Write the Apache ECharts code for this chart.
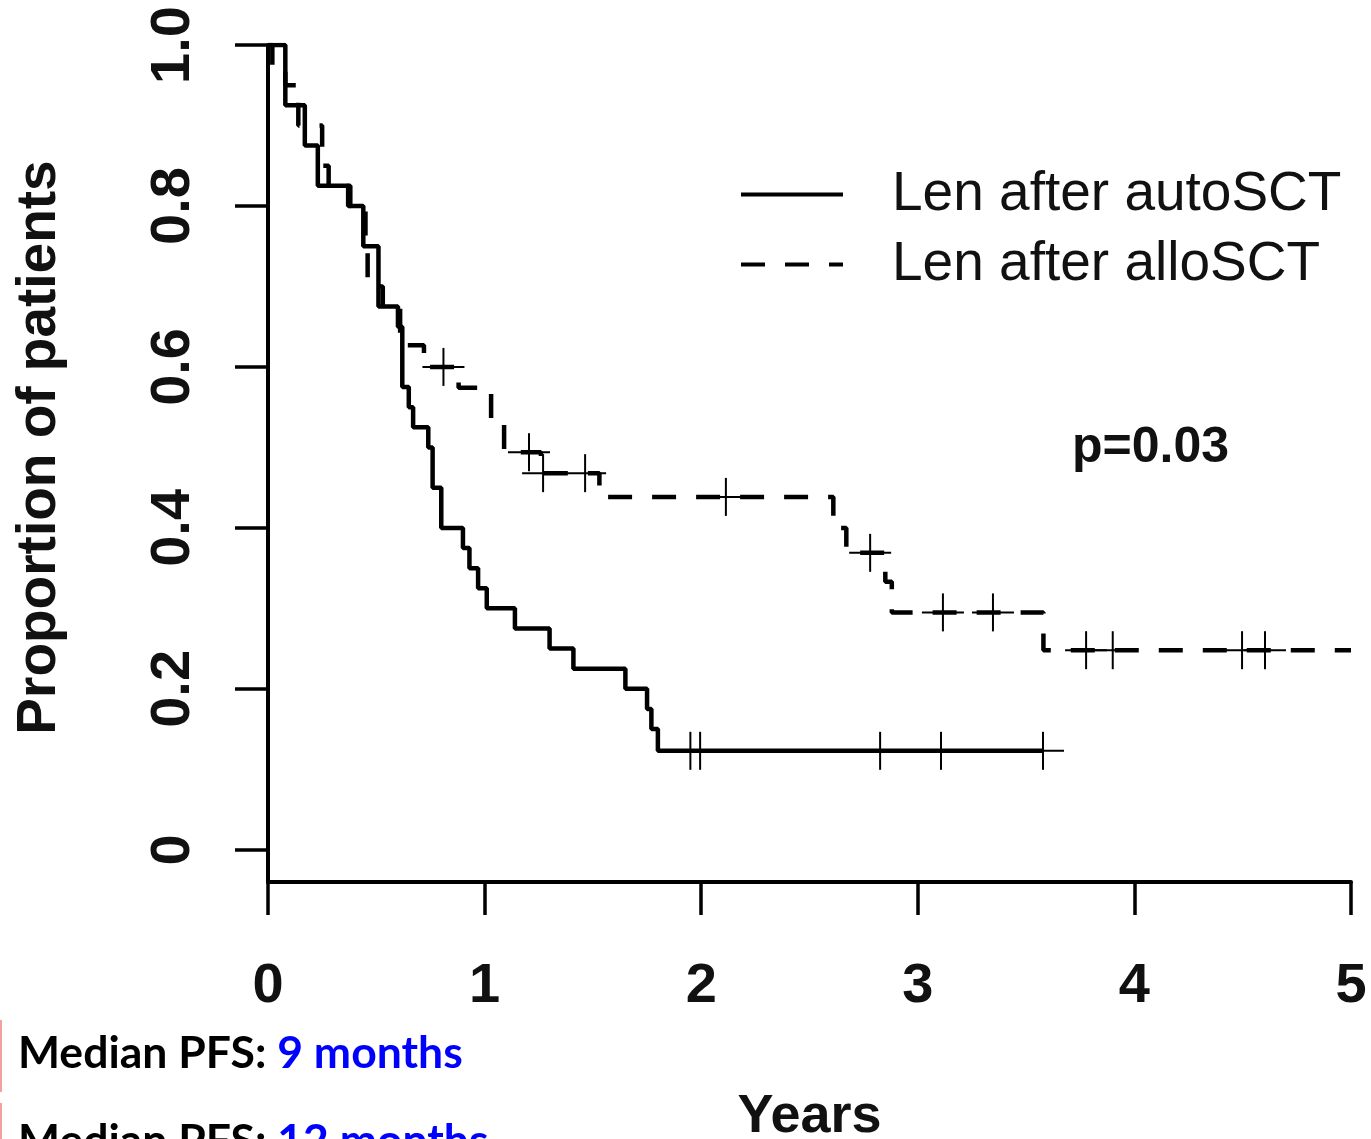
<!DOCTYPE html>
<html>
<head>
<meta charset="utf-8">
<title>Len after autoSCT vs alloSCT</title>
<script src="https://cdn.jsdelivr.net/npm/echarts@6/dist/echarts.min.js"></script>
<style>
  html, body { margin: 0; padding: 0; background: #ffffff; }
  #chart { width: 1371px; height: 1139px; }
</style>
</head>
<body>
<div id="chart"></div>
<script>
// Axis ticks
const yearTicks = [0, 1, 2, 3, 4, 5];
const proportionTicks = [0, 0.2, 0.4, 0.6, 0.8, 1.0];

// Kaplan–Meier steps, [years, proportion] — the level holds until the next step
const autoSCTSteps = [
  [0, 1.0], [0.08, 0.925], [0.17, 0.875], [0.23, 0.825], [0.38, 0.80],
  [0.44, 0.75], [0.51, 0.675], [0.60, 0.65], [0.62, 0.575], [0.65, 0.55],
  [0.67, 0.525], [0.74, 0.50], [0.76, 0.45], [0.80, 0.40], [0.90, 0.375],
  [0.93, 0.35], [0.97, 0.325], [1.01, 0.30], [1.14, 0.275], [1.30, 0.25],
  [1.41, 0.225], [1.65, 0.20], [1.75, 0.175], [1.77, 0.15], [1.80, 0.123],
  [3.58, 0.123]
];
const autoSCTCensored = [1.95, 1.995, 2.826, 3.107, 3.578];

const alloSCTSteps = [
  [0, 1.0], [0.02, 0.975], [0.08, 0.95], [0.14, 0.90], [0.25, 0.85],
  [0.28, 0.825], [0.37, 0.80], [0.45, 0.75], [0.46, 0.70], [0.53, 0.675],
  [0.61, 0.627], [0.72, 0.60], [0.88, 0.574], [1.03, 0.528], [1.09, 0.494],
  [1.26, 0.468], [1.53, 0.4385], [2.61, 0.40], [2.67, 0.369], [2.85, 0.333],
  [2.88, 0.295], [3.58, 0.248], [5.0, 0.248]
];
const alloSCTCensored = [0.81, 1.205, 1.27, 1.464, 2.114, 2.78, 3.116, 3.347,
  3.777, 3.90, 4.497, 4.603];

const groupNames = ['Len after autoSCT', 'Len after alloSCT'];
const medianPFSMonths = [9, 12];
const pValueText = 'p=0.03';

// survival level in effect at time t
function levelAt(steps, t) {
  let v = steps[0][1];
  for (const s of steps) { if (s[0] <= t + 1e-9) v = s[1]; }
  return v;
}

const FONT = '"Liberation Sans", Arial, sans-serif';
const NOTE_FONT = 'bold 44.5px Lato, "Open Sans", sans-serif';

function censorSeries(times, steps, name) {
  return {
    type: 'custom',
    name: name,
    z: 5,
    silent: true,
    data: times.map(t => [t, levelAt(steps, t)]),
    renderItem: function (params, api) {
      const p = api.coord([api.value(0), api.value(1)]);
      const st = { stroke: '#000', lineWidth: 2 };
      return {
        type: 'group',
        children: [
          { type: 'line', shape: { x1: p[0], y1: p[1] - 19, x2: p[0], y2: p[1] + 19 }, style: st },
          { type: 'line', shape: { x1: p[0] - 21, y1: p[1], x2: p[0] + 21, y2: p[1] }, style: st }
        ]
      };
    }
  };
}

function medianNote(months, y) {
  return {
    type: 'text', x: 18, y: y,
    style: {
      text: '{a|Median PFS: }{b|' + months + ' months}',
      verticalAlign: 'middle',
      rich: {
        a: { font: NOTE_FONT, fill: '#000' },
        b: { font: NOTE_FONT, fill: '#0000ff' }
      }
    }
  };
}

const chart = echarts.init(document.getElementById('chart'), null, { renderer: 'canvas' });

chart.setOption({
  backgroundColor: '#ffffff',
  animation: false,
  grid: { left: 268, right: 20, top: 45, bottom: 257, containLabel: false, outerBoundsMode: 'none' },
  legend: {
    orient: 'vertical',
    left: 734,
    top: 162,
    itemWidth: 102,
    itemHeight: 14,
    itemGap: 15,
    selectedMode: false,
    data: groupNames,
    itemStyle: { opacity: 0 },
    lineStyle: { width: 4 },
    textStyle: { fontFamily: FONT, fontSize: 55, color: '#111', padding: [0, 0, 0, 44] }
  },
  xAxis: {
    type: 'value',
    min: 0, max: 5, interval: 1,
    name: 'Years',
    nameLocation: 'middle',
    nameGap: 208,
    nameTextStyle: { fontFamily: FONT, fontSize: 54, fontWeight: 'bold', color: '#111' },
    axisLine: { onZero: false, lineStyle: { color: '#000', width: 4 } },
    axisTick: { inside: false, length: 33, lineStyle: { color: '#000', width: 3.5 } },
    axisLabel: {
      margin: 77,
      fontFamily: FONT, fontSize: 56, fontWeight: 'bold', color: '#111',
      formatter: v => String(v)
    },
    splitLine: { show: false }
  },
  yAxis: {
    type: 'value',
    min: -0.04, max: 1,
    name: 'Proportion of patients',
    nameLocation: 'middle',
    nameGap: 201,
    nameRotate: 90,
    nameTextStyle: { fontFamily: FONT, fontSize: 55, fontWeight: 'bold', color: '#111', padding: [0, 0, 0, 32] },
    axisLine: { show: true, onZero: false, lineStyle: { color: '#000', width: 4 } },
    axisTick: { show: true, length: 33, customValues: proportionTicks, lineStyle: { color: '#000', width: 3.5 } },
    axisLabel: {
      show: true,
      customValues: proportionTicks,
      rotate: 90,
      margin: 66,
      fontFamily: FONT, fontSize: 56, fontWeight: 'bold', color: '#111',
      formatter: v => (Math.abs(v) < 1e-9 ? '0' : v.toFixed(1))
    },
    splitLine: { show: false }
  },
  series: [
    {
      name: groupNames[0],
      type: 'line',
      step: 'end',
      symbol: 'none',
      data: autoSCTSteps,
      lineStyle: { color: '#000', width: 4.5, type: 'solid' },
      itemStyle: { color: '#000' },
      z: 3
    },
    {
      name: groupNames[1],
      type: 'line',
      step: 'end',
      symbol: 'none',
      data: alloSCTSteps,
      lineStyle: { color: '#000', width: 4.5, type: [24, 20] },
      itemStyle: { color: '#000' },
      z: 3
    },
    censorSeries(autoSCTCensored, autoSCTSteps, 'autoSCT censored'),
    censorSeries(alloSCTCensored, alloSCTSteps, 'alloSCT censored')
  ],
  graphic: [
    {
      type: 'text', x: 1072, y: 448,
      style: { text: pValueText, font: 'bold 50px ' + FONT, fill: '#111', verticalAlign: 'middle' }
    },
    medianNote(medianPFSMonths[0], 1054),
    medianNote(medianPFSMonths[1], 1142),
    {
      type: 'line', shape: { x1: 1, y1: 1020, x2: 1, y2: 1092 },
      style: { stroke: '#f2a0a0', lineWidth: 2 }
    },
    {
      type: 'line', shape: { x1: 1, y1: 1103, x2: 1, y2: 1139 },
      style: { stroke: '#f2a0a0', lineWidth: 2 }
    }
  ]
});
</script>
</body>
</html>
